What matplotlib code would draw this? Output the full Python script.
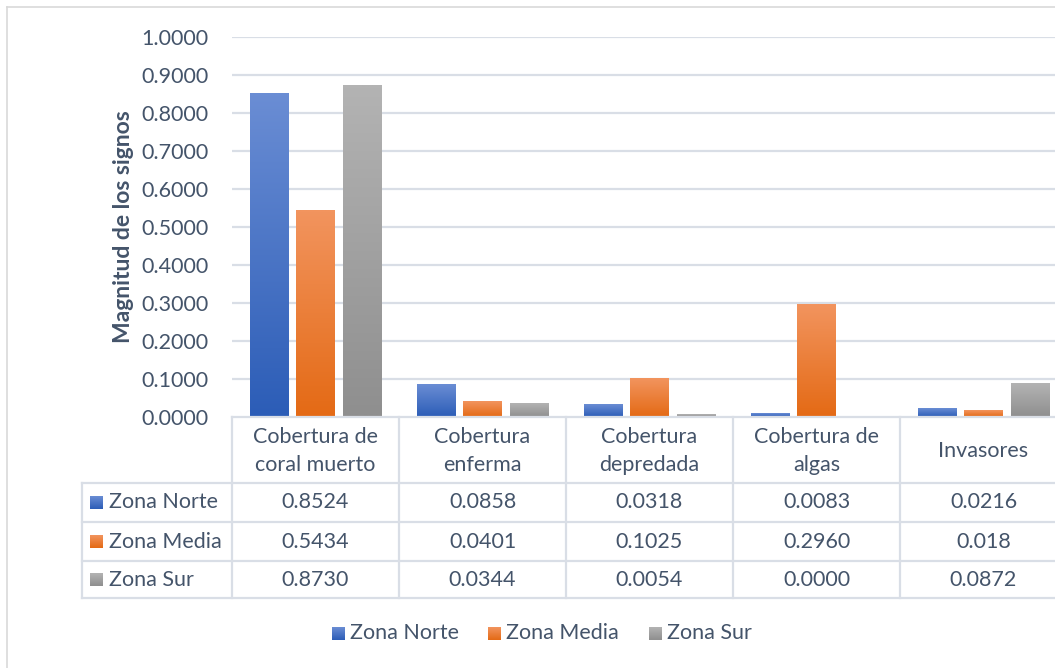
import numpy as np
import matplotlib
matplotlib.use('Agg')
import matplotlib.pyplot as plt
from matplotlib.colors import to_rgb

plt.rcParams['font.family'] = ['Lato', 'DejaVu Sans']

categories = ['Cobertura de\ncoral muerto', 'Cobertura\nenferma', 'Cobertura\ndepredada',
              'Cobertura de\nalgas', 'Invasores']
series = ['Zona Norte', 'Zona Media', 'Zona Sur']
norte_txt = ['0.8524', '0.0858', '0.0318', '0.0083', '0.0216']
media_txt = ['0.5434', '0.0401', '0.1025', '0.2960', '0.018']
sur_txt = ['0.8730', '0.0344', '0.0054', '0.0000', '0.0872']
y_ticks = [0.0, 0.1, 0.2, 0.3, 0.4, 0.5, 0.6, 0.7, 0.8, 0.9, 1.0]

table_txt = [norte_txt, media_txt, sur_txt]
values = [[float(s) for s in row] for row in table_txt]

# gradient fills (top colour, bottom colour)
fills = [('#6A8DD4', '#2C5DB7'), ('#F2945E', '#E46A15'), ('#B3B3B3', '#8F8F8F')]
txt_col = '#44546A'
line_col = '#D9DEE6'
fs = 15.5

W, H = 1055, 668
fig = plt.figure(figsize=(W / 100, H / 100), dpi=100)


def grad(ax, x0, x1, ytop, ybot, top, bottom):
    t = np.linspace(0, 1, 64)[:, None, None]
    img = (1 - t) * np.array(to_rgb(top)) + t * np.array(to_rgb(bottom))
    ax.imshow(img, extent=(x0, x1, ybot, ytop), origin='upper', aspect='auto',
              interpolation='bilinear', zorder=3)


# plot area in pixels
x_left, x_right = 232, 1067
y_top, y_zero = 37, 417
ax = fig.add_axes([x_left / W, 1 - y_zero / H, (x_right - x_left) / W, (y_zero - y_top) / H])
n = len(categories)
x = np.arange(n)
bw = 0.228
off = 0.278
for i, vals in enumerate(values):
    xs = x + (i - 1) * off
    for xi, v in zip(xs, vals):
        if v > 0:
            grad(ax, xi - bw / 2, xi + bw / 2, v, 0, *fills[i])
ax.set_xlim(-0.5, n - 0.5)
ax.set_ylim(0, 1.0)
ax.set_yticks(y_ticks)
ax.set_yticklabels(['{:.4f}'.format(t) for t in y_ticks])
ax.set_xticks([])
ax.tick_params(axis='y', length=0, pad=17, labelsize=fs, labelcolor=txt_col)
for s in ax.spines.values():
    s.set_visible(False)
for t in y_ticks[1:]:
    ax.axhline(t, color=line_col, lw=1.6, zorder=1)

fig.text(123 / W, 1 - 227 / H, 'Magnitud de los signos', rotation=90, ha='center', va='center',
         fontsize=16.5, fontweight='bold', color=txt_col)

# overlay in pixel coordinates for the data table, legend and frame
ov = fig.add_axes([0, 0, 1, 1])
ov.set_xlim(0, W)
ov.set_ylim(H, 0)
ov.axis('off')

col_edges = [232, 399, 566, 733, 900, 1067]
row_edges = [417, 483, 522, 561, 598]
lk = dict(color=line_col, lw=1.6, zorder=2)
ov.plot([232, W], [417, 417], **lk)
for yy in row_edges[1:]:
    ov.plot([82, W], [yy, yy], **lk)
ov.plot([82, 82], [483, 598], **lk)
for xx in col_edges[:-1]:
    ov.plot([xx, xx], [417, 598], **lk)

for j, cat in enumerate(categories):
    cx = (col_edges[j] + col_edges[j + 1]) / 2
    ov.text(cx, (row_edges[0] + row_edges[1]) / 2 + 1, cat, ha='center', va='center',
            fontsize=fs, color=txt_col, linespacing=1.45)
    for i in range(len(series)):
        cy = (row_edges[i + 1] + row_edges[i + 2]) / 2
        ov.text(cx, cy, table_txt[i][j], ha='center', va='center', fontsize=fs, color=txt_col)

for i, name in enumerate(series):
    cy = (row_edges[i + 1] + row_edges[i + 2]) / 2
    grad(ov, 90, 103, cy - 6.5, cy + 6.5, *fills[i])
    ov.text(109, cy, name, ha='left', va='center', fontsize=fs, color=txt_col)

# legend
leg_x = [332, 488, 649]
for i, name in enumerate(series):
    grad(ov, leg_x[i], leg_x[i] + 13, 627, 640, *fills[i])
    ov.text(leg_x[i] + 18, 633, name, ha='left', va='center', fontsize=fs, color=txt_col)

# chart frame
ov.plot([7, 7], [7, H], color='#D9D9D9', lw=1.2)
ov.plot([7, W], [7, 7], color='#D9D9D9', lw=1.2)
ov.set_xlim(0, W)
ov.set_ylim(H, 0)

fig.savefig('out.png', dpi=100)
